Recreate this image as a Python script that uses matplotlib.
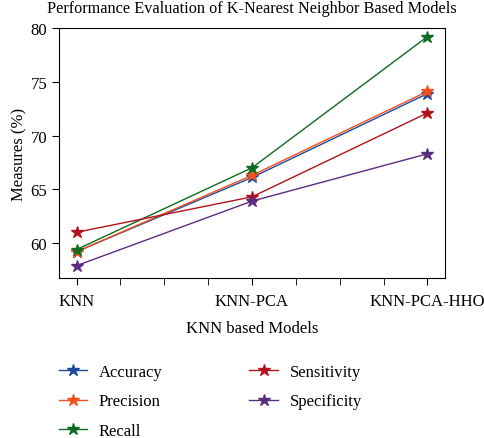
import matplotlib
matplotlib.use('Agg')
import matplotlib.pyplot as plt
from matplotlib.ticker import MultipleLocator

plt.rcParams['font.family'] = ['Liberation Serif', 'DejaVu Serif']

models = ['KNN', 'KNN-PCA', 'KNN-PCA-HHO']
accuracy = [59.2, 66.1, 73.9]
precision = [59.2, 66.3, 74.1]
recall = [59.4, 67.0, 79.2]
sensitivity = [61.0, 64.3, 72.1]
specificity = [57.9, 63.9, 68.3]

x = list(range(len(models)))

fig = plt.figure(figsize=(4.85, 4.39), dpi=100)
ax = fig.add_axes([59 / 485, 1 - 279 / 439, 386 / 485, 250 / 439])

ax.plot(x, accuracy, color='#1c4a9c', marker='*', markersize=9, lw=1.0, label='Accuracy')
ax.plot(x, precision, color='#f4511e', marker='*', markersize=9, lw=1.0, label='Precision')
ax.plot(x, recall, color='#0e6b1f', marker='*', markersize=9, lw=1.0, label='Recall')
ax.plot(x, sensitivity, color='#b3121b', marker='*', markersize=9, lw=1.0, label='Sensitivity')
ax.plot(x, specificity, color='#5a2d82', marker='*', markersize=9, lw=1.0, label='Specificity')

ax.set_xlim(-0.1, 2.1)
ax.set_ylim(56.75, 80)
ax.set_xticks(x)
ax.set_xticklabels(models)
ax.xaxis.set_minor_locator(MultipleLocator(0.25))
ax.yaxis.set_major_locator(MultipleLocator(5))
ax.tick_params(which='both', direction='out', length=5, labelsize=12)
ax.tick_params(axis='x', which='major', pad=6)

ax.set_xlabel('KNN based Models', fontsize=12, labelpad=8)
ax.set_ylabel('Measures (%)', fontsize=12, labelpad=2)
ax.set_title('Performance Evaluation of K-Nearest Neighbor Based Models', fontsize=11.7, pad=11.5)

ax.legend(loc='upper left', bbox_to_anchor=(0.0, -0.343), ncol=2, frameon=False,
          fontsize=12, columnspacing=5.2, handlelength=1.7, handletextpad=0.7,
          labelspacing=0.82, borderpad=0, borderaxespad=0)

fig.savefig('out.png', dpi=100)
